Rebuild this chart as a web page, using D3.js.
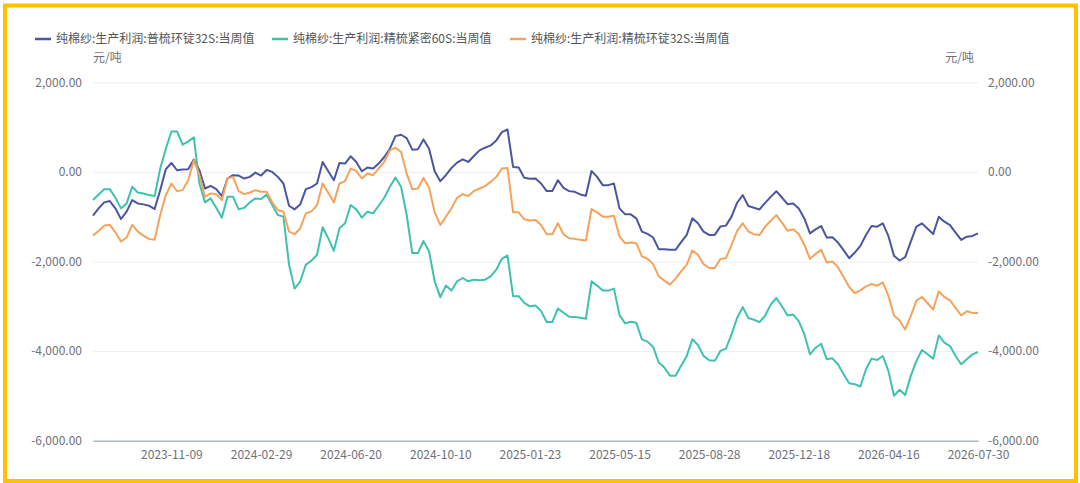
<!DOCTYPE html>
<html>
<head>
<meta charset="utf-8">
<script src="https://cdn.jsdelivr.net/npm/d3@7"></script>
<style>
  body { margin: 0; background: #fff; }
  text { font-family: "Noto Sans CJK SC", "Noto Sans", sans-serif; }
</style>
</head>
<body>
<div id="chart"></div>
<script>
// 纯棉纱 生产利润, 周度, 元/吨
var seriesNames = [
  "纯棉纱:生产利润:普梳环锭32S:当周值",
  "纯棉纱:生产利润:精梳紧密60S:当周值",
  "纯棉纱:生产利润:精梳环锭32S:当周值"
];
var seriesColors = ["#4b55a0", "#3fc1b0", "#f5a25b"];

var combed32 = [ // 普梳环锭32S
  -977, -814, -680, -651, -814, -1051, -888, -629, -703, -725,
  -755, -829, -407, 59, 200, 37, 52, 59, 274, 37,
  -370, -311, -385, -540, -148, -74, -81, -148, -111, -15,
  -81, 44, 0, -111, -259, -755, -836, -725, -385, -340,
  -259, 222, 15, -185, 200, 185, 348, 222, 15, 96,
  74, 185, 333, 518, 799, 829, 755, 496, 503, 725,
  518, 15, -207, -74, 89, 207, 281, 222, 355, 481,
  540, 592, 703, 888, 947, 111, 96, -133, -155, -148,
  -259, -429, -429, -185, -355, -429, -444, -503, -533, 22,
  -111, -296, -296, -259, -814, -947, -947, -1036, -1332, -1384,
  -1465, -1724, -1724, -1739, -1739, -1569, -1406, -1036, -1147, -1332,
  -1406, -1406, -1221, -1199, -999, -688, -518, -760, -800, -838,
  -690, -557, -431, -572, -720, -705, -816, -1038, -1371, -1282,
  -1208, -1467, -1460, -1578, -1748, -1926, -1800, -1652, -1408, -1208,
  -1223, -1149, -1430, -1874, -1978, -1904, -1556, -1223, -1149, -1267,
  -1386, -1001, -1112, -1186, -1356, -1519, -1445, -1430, -1371
];

var compact60 = [ // 精梳紧密60S
  -629, -503, -385, -385, -577, -814, -703, -333, -459, -481,
  -518, -540, 74, 518, 903, 903, 607, 681, 770, -259,
  -681, -592, -799, -1021, -555, -555, -836, -799, -681, -592,
  -607, -503, -740, -962, -999, -2072, -2605, -2442, -2072, -1980,
  -1850, -1236, -1480, -1761, -1258, -1147, -740, -836, -1021, -888,
  -925, -755, -577, -333, -126, -333, -962, -1813, -1813, -1539,
  -1776, -2442, -2797, -2538, -2649, -2442, -2368, -2442, -2405, -2420,
  -2405, -2331, -2183, -1939, -1865, -2775, -2775, -2923, -3000, -2982,
  -3108, -3352, -3352, -3049, -3145, -3234, -3241, -3256, -3278, -2442,
  -2538, -2649, -2649, -2605, -3197, -3382, -3345, -3367, -3737, -3789,
  -3907, -4255, -4366, -4551, -4551, -4329, -4107, -3737, -3863, -4107,
  -4203, -4218, -3996, -3944, -3626, -3256, -3019, -3260, -3300, -3354,
  -3206, -2962, -2814, -2999, -3206, -3184, -3332, -3628, -4072, -3924,
  -3835, -4183, -4161, -4294, -4516, -4716, -4738, -4790, -4405, -4168,
  -4198, -4109, -4442, -4997, -4864, -4982, -4553, -4220, -3976, -4072,
  -4168, -3650, -3813, -3887, -4109, -4294, -4183, -4072, -4020
];

var ring32 = [ // 精梳环锭32S
  -1421, -1317, -1199, -1184, -1347, -1554, -1465, -1184, -1332, -1421,
  -1495, -1517, -962, -518, -259, -429, -407, -185, 259, -74,
  -555, -481, -496, -629, -148, -111, -429, -496, -459, -407,
  -444, -444, -681, -851, -888, -1332, -1391, -1258, -925, -880,
  -740, -259, -466, -681, -259, -207, 74, 22, -148, -37,
  -74, 74, 222, 481, 540, 444, -37, -385, -370, -133,
  -355, -903, -1184, -999, -814, -577, -496, -540, -429, -370,
  -318, -222, -111, 74, 89, -903, -903, -1058, -1085, -1073,
  -1184, -1391, -1391, -1147, -1391, -1480, -1495, -1517, -1532, -829,
  -903, -999, -999, -977, -1443, -1591, -1576, -1591, -1887, -1939,
  -2057, -2331, -2427, -2516, -2383, -2220, -2072, -1754, -1850, -2057,
  -2146, -2146, -1946, -1924, -1628, -1317, -1147, -1330, -1390, -1408,
  -1223, -1090, -964, -1134, -1312, -1282, -1386, -1630, -1941, -1830,
  -1741, -2022, -2000, -2126, -2348, -2570, -2703, -2644, -2555, -2503,
  -2540, -2466, -2762, -3206, -3317, -3517, -3221, -2873, -2792, -2932,
  -3073, -2666, -2792, -2866, -3036, -3206, -3110, -3147, -3147
];

// x labels shown on the category axis (every 16th week, counted back from the last one)
var tickLabels = ["2023-11-09", "2024-02-29", "2024-06-20", "2024-10-10", "2025-01-23",
                  "2025-05-15", "2025-08-28", "2025-12-18", "2026-04-16", "2026-07-30"];
var tickIndex = [14, 30, 46, 62, 78, 94, 110, 126, 142, 158];
var yTicks = [2000, 0, -2000, -4000, -6000];

var W = 1080, H = 483;
var margin = {top: 82.3, right: 102, bottom: 42.3, left: 93};

var series = [combed32, compact60, ring32];
var n = combed32.length;

var x = d3.scalePoint()
    .domain(d3.range(n))
    .range([margin.left, W - margin.right]);

var y = d3.scaleLinear()
    .domain([-6000, 2000])
    .range([H - margin.bottom, margin.top]);

var fmt = d3.formatLocale({decimal: ".", thousands: ",", grouping: [3], currency: ["", ""], minus: "-"}).format(",.2f");

var svg = d3.select("#chart").append("svg")
    .attr("width", W)
    .attr("height", H);

// frame
svg.append("rect")
    .attr("x", 5).attr("y", 5.5)
    .attr("width", 1071).attr("height", 475.5)
    .attr("fill", "none")
    .attr("stroke", "#ffc000")
    .attr("stroke-width", 4);

// grid
svg.append("g")
    .attr("transform", "translate(" + margin.left + ",0)")
    .call(d3.axisLeft(y).tickValues(yTicks.slice(0, 4)).tickSize(-(W - margin.right - margin.left)).tickFormat(""))
    .call(function(g) {
      g.select(".domain").remove();
      g.selectAll("line").attr("stroke", "#eceef5").attr("stroke-width", 1);
    });

// left axis labels
svg.append("g")
    .attr("transform", "translate(" + margin.left + ",0)")
    .call(d3.axisLeft(y).tickValues(yTicks).tickSize(0).tickPadding(11).tickFormat(fmt))
    .call(function(g) {
      g.select(".domain").remove();
      g.selectAll("text").attr("fill", "#6e7079").attr("font-size", 12);
    });

// right axis labels
svg.append("g")
    .attr("transform", "translate(" + (W - margin.right) + ",0)")
    .call(d3.axisRight(y).tickValues(yTicks).tickSize(0).tickPadding(10).tickFormat(fmt))
    .call(function(g) {
      g.select(".domain").remove();
      g.selectAll("text").attr("fill", "#6e7079").attr("font-size", 12);
    });

// bottom axis
svg.append("g")
    .attr("transform", "translate(0," + (H - margin.bottom) + ")")
    .call(d3.axisBottom(x).tickValues(tickIndex).tickSize(0).tickPadding(10)
      .tickFormat(function(d, i) { return tickLabels[i]; }))
    .call(function(g) {
      g.select(".domain").attr("stroke", "#aeb6c8").attr("stroke-width", 1.5);
      g.selectAll("text").attr("fill", "#6e7079").attr("font-size", 12);
    });

// units
svg.append("text")
    .attr("x", margin.left).attr("y", 62)
    .attr("fill", "#6e7079").attr("font-size", 12)
    .text("元/吨");
svg.append("text")
    .attr("x", W - margin.right - 4).attr("y", 62)
    .attr("text-anchor", "end")
    .attr("fill", "#6e7079").attr("font-size", 12)
    .text("元/吨");

// lines
var line = d3.line()
    .x(function(d, i) { return x(i); })
    .y(function(d) { return y(d); });

svg.selectAll(".series")
    .data(series)
  .enter().append("path")
    .attr("class", "series")
    .attr("d", line)
    .attr("fill", "none")
    .attr("stroke", function(d, i) { return seriesColors[i]; })
    .attr("stroke-width", 2)
    .attr("stroke-linejoin", "round");

// legend
var legendX = [35, 272, 510];
var legend = svg.selectAll(".legend")
    .data(seriesNames)
  .enter().append("g")
    .attr("class", "legend")
    .attr("transform", function(d, i) { return "translate(" + legendX[i] + ",39)"; });

legend.append("line")
    .attr("x1", 0).attr("x2", 16)
    .attr("stroke", function(d, i) { return seriesColors[i]; })
    .attr("stroke-width", 2.5);

legend.append("text")
    .attr("x", 21).attr("dy", "0.35em")
    .attr("fill", "#555")
    .attr("font-size", 12)
    .text(function(d) { return d; });
</script>
</body>
</html>
